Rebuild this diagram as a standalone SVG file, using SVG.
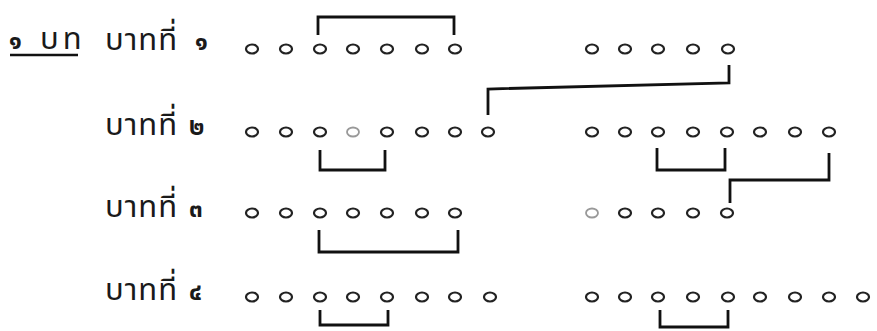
<svg xmlns="http://www.w3.org/2000/svg" width="877" height="331" viewBox="0 0 877 331">
<style>
.lbl{font-family:'Noto Sans Thai','Noto Sans','DejaVu Sans',sans-serif;font-size:31px;fill:#1a1a1a;letter-spacing:1px}
.dg{font-family:'Noto Sans Thai','Noto Sans','DejaVu Sans',sans-serif;font-size:24px;font-weight:bold;fill:#1a1a1a}
.c{fill:#fff;stroke:#222;stroke-width:2.2}
.cl{fill:#fff;stroke:#999;stroke-width:1.8}
.br{fill:none;stroke:#111;stroke-width:2.8;stroke-linejoin:miter}
</style>
<defs>
<ellipse id="o" rx="6" ry="4.5"/>
</defs>
<rect width="877" height="331" fill="#fff"/>
<g id="title">
<text class="dg" x="9" y="49">๑</text>
<text class="lbl" x="40" y="49" style="letter-spacing:4px">บท</text>
<line x1="10" y1="55" x2="78" y2="55" stroke="#111" stroke-width="2.4"/>
</g>
<g id="line1">
<text class="lbl" x="105" y="50">บาทที่</text>
<text class="dg" x="195" y="50">๑</text>
<g class="c">
<use href="#o" x="252" y="49"/><use href="#o" x="286" y="49"/><use href="#o" x="320" y="49"/><use href="#o" x="353" y="49"/><use href="#o" x="387" y="49"/><use href="#o" x="422" y="49"/><use href="#o" x="455" y="49"/>
<use href="#o" x="592" y="49"/><use href="#o" x="625" y="49"/><use href="#o" x="658" y="49"/><use href="#o" x="693" y="49"/><use href="#o" x="728" y="49"/>
</g>
</g>
<g id="line2">
<text class="lbl" x="105" y="135">บาทที่</text>
<text class="dg" x="189" y="135">๒</text>
<g class="c">
<use href="#o" x="252" y="132"/><use href="#o" x="286" y="132"/><use href="#o" x="320" y="132"/><use href="#o" x="387" y="132"/><use href="#o" x="422" y="132"/><use href="#o" x="455" y="132"/><use href="#o" x="488" y="132"/>
<use href="#o" x="592" y="132"/><use href="#o" x="625" y="132"/><use href="#o" x="658" y="132"/><use href="#o" x="693" y="132"/><use href="#o" x="727" y="132"/><use href="#o" x="760" y="132"/><use href="#o" x="795" y="132"/><use href="#o" x="829" y="132"/>
</g>
<use href="#o" class="cl" x="353" y="132"/>
</g>
<g id="line3">
<text class="lbl" x="105" y="217">บาทที่</text>
<text class="dg" x="189" y="217">๓</text>
<g class="c">
<use href="#o" x="252" y="213"/><use href="#o" x="286" y="213"/><use href="#o" x="320" y="213"/><use href="#o" x="353" y="213"/><use href="#o" x="387" y="213"/><use href="#o" x="422" y="213"/><use href="#o" x="455" y="213"/>
<use href="#o" x="625" y="213"/><use href="#o" x="658" y="213"/><use href="#o" x="693" y="213"/><use href="#o" x="727" y="213"/>
</g>
<use href="#o" class="cl" x="592" y="213"/>
</g>
<g id="line4">
<text class="lbl" x="105" y="300">บาทที่</text>
<text class="dg" x="189" y="300">๔</text>
<g class="c">
<use href="#o" x="252" y="297"/><use href="#o" x="286" y="297"/><use href="#o" x="320" y="297"/><use href="#o" x="353" y="297"/><use href="#o" x="387" y="297"/><use href="#o" x="422" y="297"/><use href="#o" x="455" y="297"/><use href="#o" x="490" y="297"/>
<use href="#o" x="592" y="297"/><use href="#o" x="625" y="297"/><use href="#o" x="658" y="297"/><use href="#o" x="693" y="297"/><use href="#o" x="728" y="297"/><use href="#o" x="760" y="297"/><use href="#o" x="795" y="297"/><use href="#o" x="829" y="297"/><use href="#o" x="863" y="297"/>
</g>
</g>
<g id="connectors" class="br">
<path d="M318,35 V17 H454 V35"/>
<path d="M729,65 V83 L488,89 V115"/>
<path d="M320,150 V170 H385 V150"/>
<path d="M657,148 V170 H725 V148"/>
<path d="M829,153 V180 H730 V203"/>
<path d="M319,230 V252 H458 V230"/>
<path d="M320,310 V325 H388 V310"/>
<path d="M660,310 V327 H728 V310"/>
</g>
</svg>
